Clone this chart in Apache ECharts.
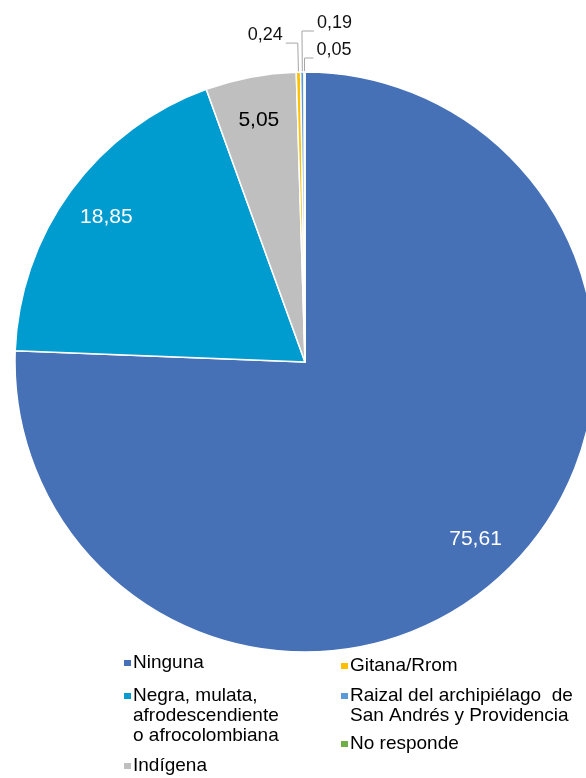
<!DOCTYPE html>
<html>
<head>
<meta charset="utf-8">
<script src="https://cdn.jsdelivr.net/npm/echarts@6/dist/echarts.min.js"></script>
<style>
  html, body { margin: 0; padding: 0; background: #ffffff; }
  #chart { width: 586px; height: 778px; }
</style>
</head>
<body>
<div id="chart"></div>
<script>
// Población por autorreconocimiento étnico (%)
const categories = [
  'Ninguna',
  'Negra, mulata, afrodescendiente o afrocolombiana',
  'Indígena',
  'Gitana/Rrom',
  'Raizal del archipiélago  de San Andrés y Providencia',
  'No responde'
];
const shares = [75.61, 18.85, 5.05, 0.24, 0.19, 0.05];
const legendText = [
  'Ninguna',
  'Negra, mulata,\nafrodescendiente\no afrocolombiana',
  'Indígena',
  'Gitana/Rrom',
  'Raizal del archipiélago  de\nSan Andrés y Providencia',
  'No responde'
];

const palette = ['#4671B7', '#009BCF', '#BFBFBF', '#FFC000', '#5B9BD5', '#70AD47'];
const font = "'Liberation Sans', Arial, sans-serif";

const pieCenter = [305, 362];
const pieRadius = 290;

// leader lines for the thin slices near twelve o'clock
const leaders = {
  3: { length: 29, length2: 12, side: 'left' },
  4: { length: 41, length2: 12, side: 'right' },
  5: { length: 14, length2: 9, side: 'right' }
};

// legend placement: column x and the y of each swatch
const legendSlots = [
  { left: 122, y: 663 },
  { left: 122, y: 696 },
  { left: 122, y: 766 },
  { left: 339, y: 666 },
  { left: 339, y: 696 },
  { left: 339, y: 744 }
];
const LINE = 20;

const fmt = v => v.toFixed(2).replace('.', ',');

// multi-line entries keep their swatch beside the first line: the text is
// centred on the swatch, so blank lines are put in front of it
const legends = categories.map((name, i) => {
  const lines = legendText[i].split('\n').length;
  const shown = '\n'.repeat(lines - 1) + legendText[i];
  return {
    data: [name],
    orient: 'vertical',
    left: legendSlots[i].left,
    top: legendSlots[i].y - (2 * lines - 1) * LINE / 2,
    padding: 0,
    icon: 'rect',
    itemWidth: 9,
    itemHeight: 8,
    selectedMode: false,
    formatter: () => shown,
    textStyle: {
      fontFamily: font,
      fontSize: 19,
      lineHeight: LINE,
      color: '#000000',
      padding: [0, 0, 0, -4]
    }
  };
});

const mainData = categories.map((name, i) => {
  const item = { name, value: shares[i], itemStyle: { color: palette[i] } };
  if (leaders[i]) {
    item.label = {
      show: true,
      position: 'outside',
      formatter: p => fmt(p.value),
      fontFamily: font,
      fontSize: 18,
      color: '#111111'
    };
    item.labelLine = {
      show: true,
      length: leaders[i].length,
      length2: leaders[i].length2,
      lineStyle: { color: '#A6A6A6', width: 1 }
    };
  }
  return item;
});

const ringData = categories.map((name, i) => ({
  name,
  value: shares[i],
  label: { show: i < 3, color: i === 2 ? '#000000' : '#ffffff' }
}));

const option = {
  animation: false,
  backgroundColor: '#ffffff',
  legend: legends,
  series: [
    {
      type: 'pie',
      center: pieCenter,
      radius: pieRadius,
      startAngle: 90,
      clockwise: true,
      avoidLabelOverlap: false,
      silent: true,
      itemStyle: { borderColor: '#ffffff', borderWidth: 1.5 },
      label: { show: false },
      labelLine: { show: false },
      emphasis: { disabled: true },
      labelLayout: function (p) {
        const cfg = leaders[p.dataIndex];
        if (!cfg || !p.labelLinePoints) return {};
        const pts = p.labelLinePoints.map(q => q.slice());
        const goRight = cfg.side === 'right';
        pts[2][0] = pts[1][0] + (goRight ? 1 : -1) * Math.abs(pts[2][0] - pts[1][0]);
        return {
          x: pts[2][0] + (goRight ? 3 : -3),
          y: pts[2][1] + 1,
          align: goRight ? 'left' : 'right',
          verticalAlign: 'bottom',
          labelLinePoints: pts
        };
      },
      data: mainData
    },
    {
      // transparent ring that carries the value labels of the large slices
      type: 'pie',
      center: pieCenter,
      radius: [196, pieRadius],
      startAngle: 90,
      clockwise: true,
      silent: true,
      legendHoverLink: false,
      itemStyle: { color: 'rgba(0,0,0,0)' },
      label: {
        position: 'inside',
        formatter: p => fmt(p.value),
        fontFamily: font,
        fontSize: 21
      },
      labelLine: { show: false },
      emphasis: { disabled: true },
      data: ringData
    }
  ]
};

const chart = echarts.init(document.getElementById('chart'), null, { renderer: 'canvas' });
chart.setOption(option);
</script>
</body>
</html>
